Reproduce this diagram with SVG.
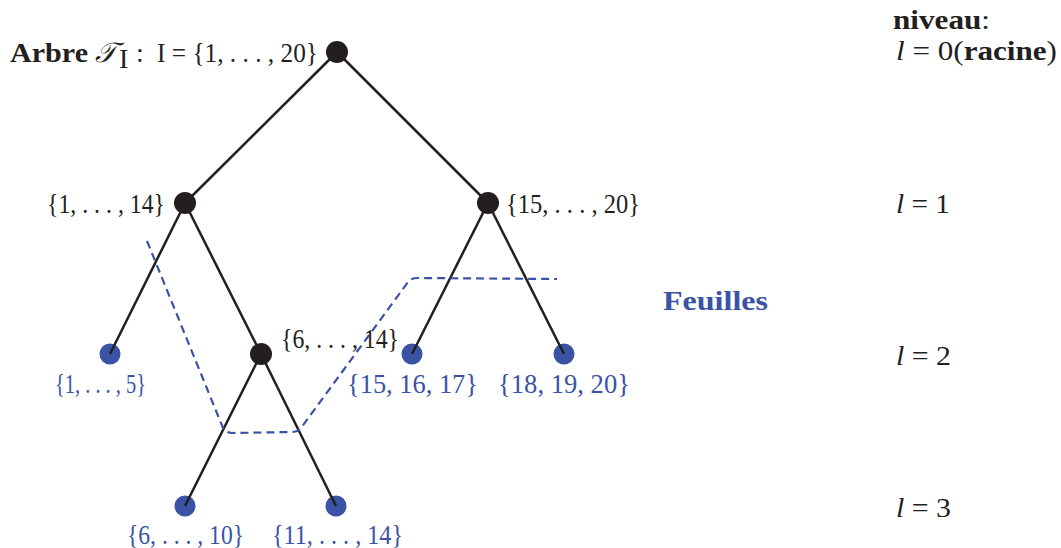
<svg xmlns="http://www.w3.org/2000/svg" width="1061" height="548" viewBox="0 0 1061 548">
<style>
  text { font-family: "Liberation Serif", "DejaVu Serif", serif; font-size: 28px; fill: #231f20; }
  .b { font-weight: bold; }
  .i { font-style: italic; }
  .blue { fill: #3a53a4; }
  .edge { stroke: #231f20; stroke-width: 2.5; fill: none; }
  .inner { fill: #231f20; }
  .leaf { fill: #3a53a4; }
  .cut { stroke: #3a53a4; stroke-width: 2.2; fill: none; stroke-dasharray: 8 5; }
</style>
<rect width="1061" height="548" fill="#ffffff"/>

<g id="leaves-dots">
  <circle id="dot-1-5" class="leaf" cx="110" cy="354" r="10.5"/>
  <circle id="dot-15-17" class="leaf" cx="412" cy="354" r="10.5"/>
  <circle id="dot-18-20" class="leaf" cx="564" cy="354" r="10.5"/>
  <circle id="dot-6-10" class="leaf" cx="185" cy="506" r="10.5"/>
  <circle id="dot-11-14" class="leaf" cx="336" cy="506" r="10.5"/>
</g>

<g id="connectors">
  <line class="edge" x1="337" y1="52" x2="185" y2="203"/>
  <line class="edge" x1="337" y1="52" x2="488" y2="203"/>
  <line class="edge" x1="185" y1="203" x2="110" y2="354"/>
  <line class="edge" x1="185" y1="203" x2="261" y2="354"/>
  <line class="edge" x1="488" y1="203" x2="412" y2="354"/>
  <line class="edge" x1="488" y1="203" x2="564" y2="354"/>
  <line class="edge" x1="261" y1="354" x2="185" y2="506"/>
  <line class="edge" x1="261" y1="354" x2="336" y2="506"/>
</g>

<g id="cut-line">
  <path class="cut" d="M147,241 L223,428 Q226,433 232,433 L293,432 Q298,432 301,428 L408,282 Q411,278 418,278 L557,279"/>
</g>

<g id="node-root">
  <circle class="inner" cx="337" cy="52" r="11"/>
  <text x="10" y="62" class="b" textLength="78" lengthAdjust="spacingAndGlyphs">Arbre</text>
  <text x="95" y="62" class="i">𝒯</text>
  <text x="119" y="68" font-size="18">I</text>
  <text x="136" y="62">:</text>
  <text x="157" y="62" textLength="161" lengthAdjust="spacingAndGlyphs">I = {1, . . . , 20}</text>
</g>

<g id="node-1-14">
  <circle class="inner" cx="185" cy="203" r="11"/>
  <text x="47" y="213" textLength="118" lengthAdjust="spacingAndGlyphs">{1, . . . , 14}</text>
</g>

<g id="node-15-20">
  <circle class="inner" cx="488" cy="203" r="11"/>
  <text x="506" y="213" textLength="134" lengthAdjust="spacingAndGlyphs">{15, . . . , 20}</text>
</g>

<g id="node-6-14">
  <circle class="inner" cx="261" cy="354" r="11"/>
  <text x="281" y="348" textLength="118" lengthAdjust="spacingAndGlyphs">{6, . . . , 14}</text>
</g>

<g id="leaf-1-5">
  <text class="blue" x="55" y="393" textLength="91" lengthAdjust="spacingAndGlyphs">{1, . . . , 5}</text>
</g>
<g id="leaf-15-17">
  <text class="blue" x="347" y="393" textLength="131" lengthAdjust="spacingAndGlyphs">{15, 16, 17}</text>
</g>
<g id="leaf-18-20">
  <text class="blue" x="498" y="393" textLength="132" lengthAdjust="spacingAndGlyphs">{18, 19, 20}</text>
</g>
<g id="leaf-6-10">
  <text class="blue" x="127" y="544" textLength="117" lengthAdjust="spacingAndGlyphs">{6, . . . , 10}</text>
</g>
<g id="leaf-11-14">
  <text class="blue" x="272" y="544" textLength="131" lengthAdjust="spacingAndGlyphs">{11, . . . , 14}</text>
</g>

<g id="label-feuilles">
  <text class="b blue" x="663" y="310" textLength="105" lengthAdjust="spacingAndGlyphs">Feuilles</text>
</g>

<g id="levels">
  <text x="893" y="29" textLength="97" lengthAdjust="spacingAndGlyphs"><tspan class="b">niveau</tspan>:</text>
  <text x="896" y="60" textLength="161" lengthAdjust="spacingAndGlyphs"><tspan class="i">l</tspan> = 0(<tspan class="b">racine</tspan>)</text>
  <text x="896" y="213" textLength="54" lengthAdjust="spacingAndGlyphs"><tspan class="i">l</tspan> = 1</text>
  <text x="896" y="365" textLength="55" lengthAdjust="spacingAndGlyphs"><tspan class="i">l</tspan> = 2</text>
  <text x="896" y="517" textLength="55" lengthAdjust="spacingAndGlyphs"><tspan class="i">l</tspan> = 3</text>
</g>
</svg>
